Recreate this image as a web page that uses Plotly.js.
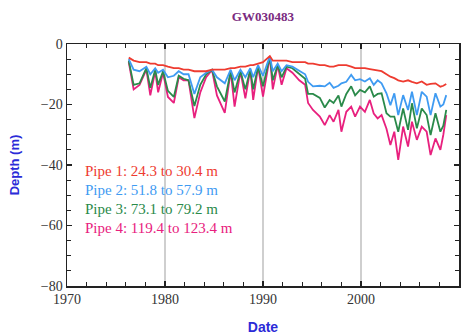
<!DOCTYPE html>
<html>
<head>
<meta charset="utf-8">
<script src="https://cdn.plot.ly/plotly-3.0.1.min.js"></script>
<style>html,body{margin:0;padding:0;background:#fff;}#chart{width:472px;height:336px;}</style>
</head>
<body>
<div id="chart"></div>
<script>
const years = [1976.3,1976.8,1977.4,1978.1,1978.5,1979.0,1979.3,1979.8,1980.3,1980.9,1981.4,1981.9,1982.4,1983.0,1983.6,1984.2,1984.8,1985.3,1986.1,1986.7,1987.1,1987.7,1988.2,1988.7,1989.0,1989.5,1990.0,1990.7,1991.0,1991.5,1991.9,1992.4,1993.0,1993.7,1994.3,1994.6,1995.1,1995.8,1996.3,1996.8,1997.2,1997.7,1998.0,1998.5,1999.0,1999.4,1999.9,2000.4,2000.9,2001.3,2001.7,2002.1,2002.6,2003.0,2003.4,2003.8,2004.3,2004.8,2005.2,2005.7,2006.2,2006.7,2007.1,2007.6,2008.1,2008.4,2008.7];
const pipe1 = [-4.5,-5.5,-6,-6,-6.5,-6.5,-7,-7,-7.5,-8,-8,-8.5,-8.5,-9,-9,-9,-8.5,-8.5,-8.5,-8,-8,-7.5,-7.5,-7,-7,-6.5,-6,-4,-5.5,-5.5,-5.5,-5.5,-6,-6,-6,-6.5,-6.5,-7,-7,-7.5,-7.5,-7,-7,-7,-7.5,-8,-8,-8,-8.3,-8.5,-8.6,-9,-10,-10.8,-11.3,-12,-12.4,-12,-12.5,-13,-12.4,-13.5,-13.2,-13,-14.1,-13.8,-13.2];
const pipe2 = [-5,-8.5,-9,-7.5,-10,-8,-9.5,-8.5,-11,-10.5,-9,-10,-10,-16.5,-11,-9.5,-8.5,-11,-13,-8.5,-12,-8.5,-11,-8,-11,-7,-10.5,-4,-9,-6.5,-9,-7,-7.5,-9,-10,-12.5,-14,-13.8,-14,-12.8,-14.5,-13.8,-13,-12.5,-10.2,-12,-11.6,-12.4,-11.3,-13.5,-12,-13,-16.3,-20.2,-16.3,-23.5,-16.9,-21.8,-15.8,-23.5,-15.8,-17.4,-23.5,-16.3,-20.7,-20,-16.9];
const pipe3 = [-5.5,-13.5,-13,-8,-14.5,-8.5,-13.5,-9,-15.5,-17.5,-10.5,-11.5,-12,-20.5,-13.5,-10,-8.5,-14,-19,-9,-16,-9,-15,-8.5,-15,-7.5,-14,-4.2,-12,-7,-11,-7.5,-8,-10,-11.5,-16.5,-16.5,-17.8,-21,-18.5,-19.5,-17,-20.7,-16.5,-14,-17,-15.2,-16,-14,-17.4,-16.5,-16.3,-22.9,-24,-24,-29,-21.3,-28.4,-19.6,-27.9,-21.3,-23.5,-30.1,-22.9,-29,-27,-21.8];
const pipe4 = [-6,-15,-13.5,-8.5,-17,-9,-16,-9.5,-17.5,-19.5,-11,-12,-12,-24.5,-16,-11,-8.6,-17,-22.8,-9,-20.7,-9,-18,-8.5,-18.5,-7.5,-17.4,-4.2,-15,-7,-13.5,-8,-9.5,-12,-13.5,-19.5,-21.8,-24,-26.8,-23.5,-25.7,-21.8,-29,-22.4,-20.7,-24,-20.7,-22.4,-18.5,-23,-24.6,-23.5,-28,-33.4,-29,-38.3,-27.3,-33.9,-25.7,-31.7,-27.3,-29,-36.7,-31.2,-35,-30,-23.5];
const seriesNames = ["Pipe 1: 24.3 to 30.4 m","Pipe 2: 51.8 to 57.9 m","Pipe 3: 73.1 to 79.2 m","Pipe 4: 119.4 to 123.4 m"];
const colors = ["#ee3b30","#3f9bf2","#2a8a4a","#e8207e"];
const seriesData = [pipe1,pipe2,pipe3,pipe4];
const legendY = [-42,-48.3,-54.5,-60.8];

const traces = [3,2,1,0].map(i => ({
  x: years, y: seriesData[i], type: 'scatter', mode: 'lines',
  line: {color: colors[i], width: 1.8}, name: seriesNames[i], showlegend: false, hoverinfo: 'skip'
}));
// invisible trace that anchors the mirrored tick axes (top and right)
traces.push({x: years, y: pipe1, xaxis: 'x2', yaxis: 'y2', type: 'scatter', mode: 'lines',
  line: {color: 'rgba(0,0,0,0)', width: 0}, showlegend: false, hoverinfo: 'skip'});

const annotations = seriesNames.map((t,i) => ({
  x: 1971.6, y: legendY[i], xref: 'x', yref: 'y', text: t, showarrow: false,
  xanchor: 'left', yanchor: 'middle',
  font: {family: 'Liberation Serif, Times New Roman, serif', size: 15, color: colors[i]}
}));

const tickCommon = {ticks: 'inside', tickwidth: 1.2, tickcolor: '#222'};

const layout = {
  width: 472, height: 336,
  margin: {l: 67, r: 13, t: 44, b: 50},
  paper_bgcolor: '#fff', plot_bgcolor: '#fff',
  title: {text: '<b>GW030483</b>', x: 0.557, xanchor: 'center', y: 0.952, yanchor: 'middle',
    font: {family: 'Liberation Serif, serif', size: 13, color: '#7a2a80'}},
  xaxis: Object.assign({
    range: [1970, 2010], tick0: 1970, dtick: 10, ticklen: 5,
    showline: true, linecolor: '#222', linewidth: 1.5, mirror: true,
    showgrid: true, gridcolor: '#cfcfcf', gridwidth: 1.5, zeroline: false,
    minor: Object.assign({dtick: 2, ticklen: 4, showgrid: false}, tickCommon),
    tickfont: {family: 'Liberation Serif, serif', size: 14, color: '#333'},
    title: {text: '<b>Date</b>', standoff: 16, font: {family: 'Liberation Sans, Arial, sans-serif', size: 14, color: '#2b2bd8'}}
  }, tickCommon),
  yaxis: Object.assign({
    range: [-80, 0], tick0: 0, dtick: 20, ticklen: 5,
    showline: true, linecolor: '#222', linewidth: 1.5, mirror: true,
    showgrid: false, zeroline: false,
    minor: Object.assign({dtick: 5, ticklen: 4, showgrid: false}, tickCommon),
    tickfont: {family: 'Liberation Serif, serif', size: 14, color: '#333'},
    title: {text: '<b>Depth (m)</b>', standoff: 18, font: {family: 'Liberation Sans, Arial, sans-serif', size: 13, color: '#2b2bd8'}}
  }, tickCommon),
  xaxis2: Object.assign({
    overlaying: 'x', side: 'top', anchor: 'y2', matches: 'x', range: [1970, 2010], tick0: 1970, dtick: 10, ticklen: 5,
    showticklabels: false, showgrid: false, zeroline: false, showline: false,
    minor: Object.assign({dtick: 2, ticklen: 4, showgrid: false}, tickCommon)
  }, tickCommon),
  yaxis2: Object.assign({
    overlaying: 'y', side: 'right', anchor: 'x2', matches: 'y', range: [-80, 0], tick0: 0, dtick: 20, ticklen: 5,
    showticklabels: false, showgrid: false, zeroline: false, showline: false,
    minor: Object.assign({dtick: 5, ticklen: 4, showgrid: false}, tickCommon)
  }, tickCommon),
  annotations: annotations
};

Plotly.newPlot('chart', traces, layout, {staticPlot: true, displayModeBar: false});
</script>
</body>
</html>
